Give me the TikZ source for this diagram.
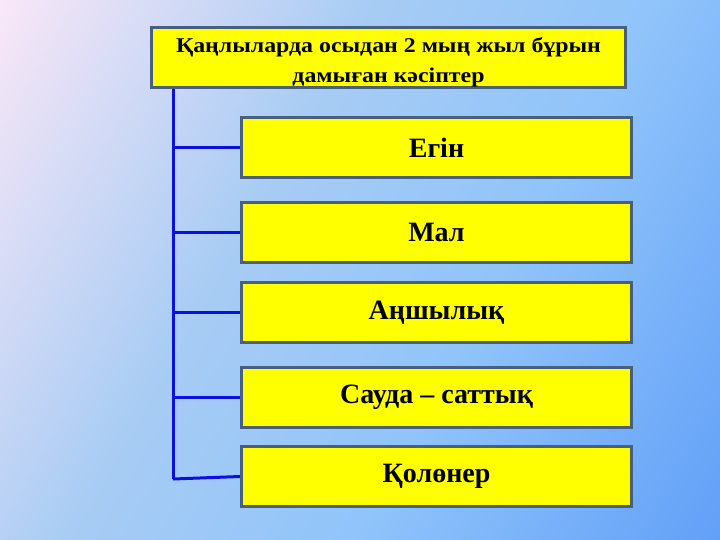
\documentclass[tikz,border=0pt]{standalone}
\usepackage{fontspec}
\setmainfont{Liberation Serif}
\newfontfamily\headfont[FakeStretch=1.135]{Liberation Serif}
\usetikzlibrary{positioning}
\definecolor{boxyellow}{HTML}{FFFF00}
\definecolor{boxedge}{HTML}{48607C}
\definecolor{treeblue}{HTML}{0A10E4}
\definecolor{bgpink}{HTML}{F9E7F7}
\definecolor{bgpale}{HTML}{A8CCF4}
\definecolor{bgmid}{HTML}{90C4FA}
\definecolor{bgblue}{HTML}{62A0F8}
% diagonal slide background: pink corner to blue corner
\pgfdeclareverticalshading{slidebg}{100bp}{color(0bp)=(bgblue); color(15.95bp)=(bgblue);
    color(40.47bp)=(bgmid); color(59.53bp)=(bgpale); color(84.05bp)=(bgpink); color(100bp)=(bgpink)}
\newcommand\bx{436.5}

\begin{document}
\begin{tikzpicture}[x=1pt, y=-1pt,
    headbox/.style={draw=boxedge, fill=boxyellow, line width=3pt, inner sep=0pt,
        minimum width=474pt, minimum height=60pt},
    headtext/.style={inner sep=0pt, align=center, yshift=-4.5pt,
        font=\headfont\bfseries\fontsize{21}{30}\selectfont},
    kindbox/.style={draw=boxedge, fill=boxyellow, line width=3pt, inner sep=0pt,
        minimum width=390pt, minimum height=60pt,
        font=\bfseries\fontsize{28}{30}\selectfont},
    branch/.style={draw=treeblue, line width=3pt}]

    % background
    \shade[shading=slidebg, shading angle=60.64] (0,0) rectangle (720,540);
    \useasboundingbox (0,0) rectangle (720,540);

    % Boxes
    \node at (388.5, 57.5) [headbox, label={[headtext]center:Қаңлыларда осыдан 2 мың жыл бұрын\\дамыған кәсіптер}] (head) {};
    \node at (\bx, 148) [kindbox] (egin) {Егін};
    \node at (\bx, 232.5) [kindbox] (mal) {Мал};
    \node at (\bx, 312.5) [kindbox] (anshy) {Аңшылық};
    \node at (\bx, 397.5) [kindbox] (sauda) {Сауда – саттық};
    \node at (\bx, 476.5) [kindbox] (qolon) {Қолөнер};

    % Tree
    \coordinate (top) at (173, 89.5);
    \coordinate (bot) at (173, 479);
    \draw[branch] (top) -- (bot);
    \draw[branch] (top |- egin.west) -- (egin.west);
    \draw[branch] (top |- mal.west) -- (mal.west);
    \draw[branch] (top |- anshy.west) -- (anshy.west);
    \draw[branch] (top |- sauda.west) -- (sauda.west);
    \draw[branch] (bot) -- (qolon.west);
\end{tikzpicture}
\end{document}
